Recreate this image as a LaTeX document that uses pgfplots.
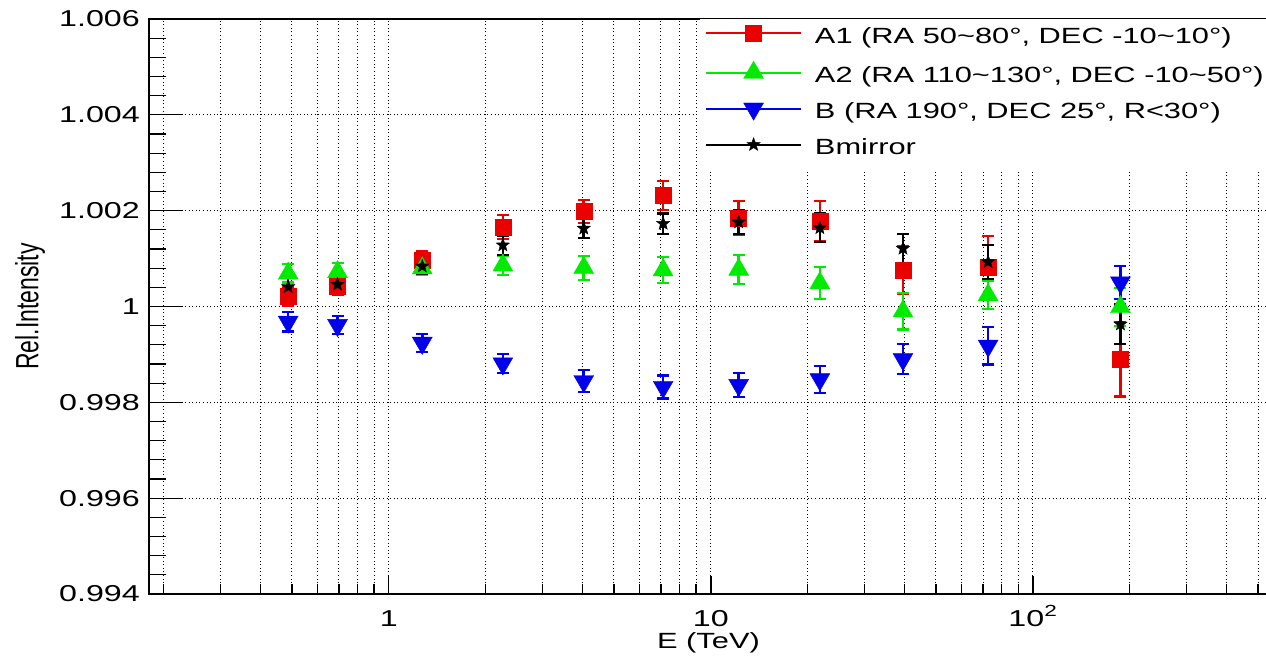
\documentclass[border=0pt]{standalone}
\usepackage{fontspec}
\setmainfont{Liberation Sans}[FakeStretch=1.4]
\newfontfamily\plainsans{Liberation Sans}
\usepackage{pgfplots}
\usepackage{pgfplotstable}
\pgfplotsset{compat=1.18}
\usetikzlibrary{plotmarks}

\pgfdeclareplotmark{fstar}{%
  \pgfpathmoveto{\pgfpointpolar{90}{\pgfplotmarksize}}%
  \pgfpathlineto{\pgfpointpolar{126}{0.42\pgfplotmarksize}}%
  \pgfpathlineto{\pgfpointpolar{162}{\pgfplotmarksize}}%
  \pgfpathlineto{\pgfpointpolar{198}{0.42\pgfplotmarksize}}%
  \pgfpathlineto{\pgfpointpolar{234}{\pgfplotmarksize}}%
  \pgfpathlineto{\pgfpointpolar{270}{0.42\pgfplotmarksize}}%
  \pgfpathlineto{\pgfpointpolar{306}{\pgfplotmarksize}}%
  \pgfpathlineto{\pgfpointpolar{342}{0.42\pgfplotmarksize}}%
  \pgfpathlineto{\pgfpointpolar{18}{\pgfplotmarksize}}%
  \pgfpathlineto{\pgfpointpolar{54}{0.42\pgfplotmarksize}}%
  \pgfpathclose
  \pgfusepathqfillstroke}

\definecolor{rred}{RGB}{235,0,0}
\definecolor{rgreen}{RGB}{0,235,0}
\definecolor{rblue}{RGB}{0,0,235}

\pgfplotstableread{
E y ey
0.487 1.00021 0.00020
0.693 1.00042 0.00018
1.27 1.00096 0.00020
2.26 1.00166 0.00025
4.03 1.00199 0.00024
7.11 1.00232 0.00030
12.2 1.00185 0.00036
21.8 1.00178 0.00042
39.5 1.00076 0.00050
72.6 1.00081 0.00066
187 0.99890 0.00078
}\tabAone

\pgfplotstableread{
E y ey
0.487 1.00069 0.00019
0.693 1.00072 0.00018
1.27 1.00080 0.00015
2.26 1.00086 0.00020
4.03 1.00081 0.00025
7.11 1.00076 0.00027
12.2 1.00077 0.00030
21.8 1.00049 0.00033
39.5 0.99990 0.00038
72.6 1.00024 0.00030
187 0.99999 0.00040
}\tabAtwo

\pgfplotstableread{
E y ey
0.487 0.99968 0.00020
0.693 0.99961 0.00019
1.27 0.99924 0.00019
2.26 0.99881 0.00020
4.03 0.99844 0.00023
7.11 0.99832 0.00024
12.2 0.99836 0.00025
21.8 0.99848 0.00028
39.5 0.99890 0.00031
72.6 0.99918 0.00039
187 1.00050 0.00035
}\tabB

\pgfplotstableread{
E y ey
0.487 1.00041 0.00018
0.693 1.00046 0.00018
1.27 1.00084 0.00017
2.26 1.00128 0.00020
4.03 1.00163 0.00020
7.11 1.00173 0.00021
12.2 1.00176 0.00025
21.8 1.00164 0.00030
39.5 1.00121 0.00030
72.6 1.00093 0.00036
187 0.99963 0.00041
}\tabBm

\begin{document}
\begin{tikzpicture}
\begin{axis}[
  scale only axis, width=1119pt, height=575pt,
  xmode=log, log basis x=10,
  xmin=0.18, xmax=537, ymin=0.994, ymax=1.006,
  xtick={1,10,100}, xticklabels={1,10,10\textsuperscript{2}},
  minor xtick={0.2,0.3,0.4,0.5,0.6,0.7,0.8,0.9,2,3,4,5,6,7,8,9,20,30,40,50,60,70,80,90,200,300,400,500},
  ytick={0.994,0.996,0.998,1,1.002,1.004,1.006},
  yticklabels={0.994,0.996,0.998,1,1.002,1.004,1.006},
  minor y tick num=4,
  xtick pos=bottom, ytick pos=left,
  tick align=inside,
  major tick length=18pt, minor tick length=10pt,
  xmajorgrids, xminorgrids, ymajorgrids,
  grid style={black, line width=1pt, dash pattern=on 1pt off 2.6pt},
  axis line style={black, line width=1.5pt},
  tick style={black, line width=1.3pt},
  tick label style={font=\fontsize{23}{27}\selectfont},
  xticklabel style={anchor=base, inner sep=0pt, yshift=-32pt},
  yticklabel style={anchor=east, inner sep=0pt, xshift=-9pt},
  xlabel={E (TeV)}, ylabel={Rel.Intensity},
  xlabel style={at={(axis description cs:0.5,-0.085)}, anchor=center, font=\fontsize{22}{26}\selectfont},
  ylabel style={at={(axis description cs:-0.1063,0.5)}, anchor=center, rotate=0, yscale=1.4, font=\plainsans\fontsize{23}{27}\selectfont},
  legend style={at={(axis description cs:0.4924,1)}, anchor=north west, draw=none, fill=white,
    inner xsep=5pt, inner ysep=6pt, row sep=10pt,
    font=\fontsize{22}{26}\selectfont,
    nodes={inner sep=3pt, text height=15pt, text depth=5pt},
    /tikz/every odd column/.append style={column sep=10pt}},
  legend cell align=left,
  legend image code/.code={
    \draw[#1, mark=none, sharp plot, line width=1.8pt] plot coordinates {(0pt,5pt) (95pt,5pt)};
    \draw[#1, only marks] plot coordinates {(47.5pt,5pt)};
  },
  error bars/y dir=both, error bars/y explicit,
]
\addplot[only marks, mark=square*, mark size=8pt, color=rred,
  error bars/error bar style={line width=2.6pt, rred},
  error bars/error mark options={rotate=90, mark size=6pt, line width=2.2pt, rred}]
  table[x=E, y=y, y error=ey] {\tabAone};
\addlegendentry{A1 (RA 50\char`~80°, DEC -10\char`~10°)}
\addplot[only marks, mark=triangle*, mark size=11.5pt, color=rgreen,
  error bars/error bar style={line width=2.6pt, rgreen},
  error bars/error mark options={rotate=90, mark size=6pt, line width=2.2pt, rgreen}]
  table[x=E, y=y, y error=ey] {\tabAtwo};
\addlegendentry{A2 (RA 110\char`~130°, DEC -10\char`~50°)}
\addplot[only marks, mark=triangle*, mark size=11.5pt, mark options={rotate=180}, color=rblue,
  error bars/error bar style={line width=2.6pt, rblue},
  error bars/error mark options={rotate=90, mark size=6pt, line width=2.2pt, rblue}]
  table[x=E, y=y, y error=ey] {\tabB};
\addlegendentry{B (RA 190°, DEC 25°, R<30°)}
\addplot[only marks, mark=fstar, mark size=7pt, color=black,
  error bars/error bar style={line width=2.6pt, black},
  error bars/error mark options={rotate=90, mark size=6pt, line width=2.2pt, black}]
  table[x=E, y=y, y error=ey] {\tabBm};
\addlegendentry{Bmirror}
\pgfplotsinvokeforeach{0.996,0.998,1,1.002,1.004}{
  \draw[black, line width=1.3pt] (axis cs:0.18,#1) -- ++(34pt,0pt);
}
\pgfplotsinvokeforeach{0.9944,0.9948,0.9952,0.9956,0.9964,0.9968,0.9972,0.9976,0.9984,0.9988,0.9992,0.9996,1.0004,1.0008,1.0012,1.0016,1.0024,1.0028,1.0032,1.0036,1.0044,1.0048,1.0052,1.0056}{
  \draw[black, line width=1.3pt] (axis cs:0.18,#1) -- ++(17pt,0pt);
}
\end{axis}
\pgfresetboundingbox
\useasboundingbox (-149pt,-63pt) rectangle (1117pt,594pt);
\end{tikzpicture}
\end{document}
